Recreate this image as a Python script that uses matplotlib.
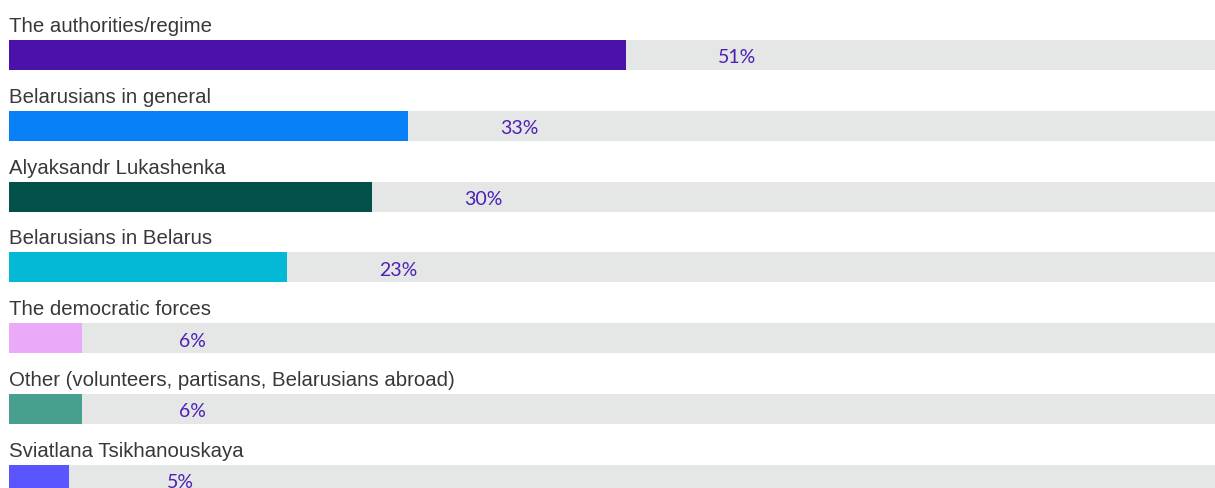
import matplotlib
matplotlib.use("Agg")
import matplotlib.pyplot as plt

categorias = [
    "The authorities/regime",
    "Belarusians in general",
    "Alyaksandr Lukashenka",
    "Belarusians in Belarus",
    "The democratic forces",
    "Other (volunteers, partisans, Belarusians abroad)",
    "Sviatlana Tsikhanouskaya",
]
valores = [51, 33, 30, 23, 6, 6, 5]
rotulos = ["51%", "33%", "30%", "23%", "6%", "6%", "5%"]
cores = ["#4a12aa", "#0880f8", "#02524a", "#03b9d6", "#eba9fa", "#489f8e", "#5b55ff"]

W, H = 1215, 489
fig = plt.figure(figsize=(W / 100, H / 100), dpi=100)
ax = fig.add_axes([9 / W, 0, 1 - 9 / W, 1])

# geometria em pixels: centro da primeira barra em y=56, passo de 70.8
passo = 70.8
topo = -56 / passo
base = (H - 56) / passo
ax.set_ylim(base, topo)
ax.set_xlim(0, (W - 9) / 12.1)

altura = 30 / passo
y = list(range(len(categorias)))
ax.barh(y, [100] * len(y), height=altura, color="#e5e6e6", zorder=1)
ax.barh(y, valores, height=altura, color=cores, zorder=2)

for i, (nome, v, r) in enumerate(zip(categorias, valores, rotulos)):
    ax.text(0, i - altura / 2 - 9 / passo, nome, fontsize=14.7, color="#383838",
            family="Liberation Sans", va="baseline", ha="left")
    ax.text(v + 9.2, i + 2 / passo, r, fontsize=14, color="#4c20b5",
            family="Lato", va="center", ha="center")

ax.axis("off")
fig.savefig("out.png", dpi=100)
